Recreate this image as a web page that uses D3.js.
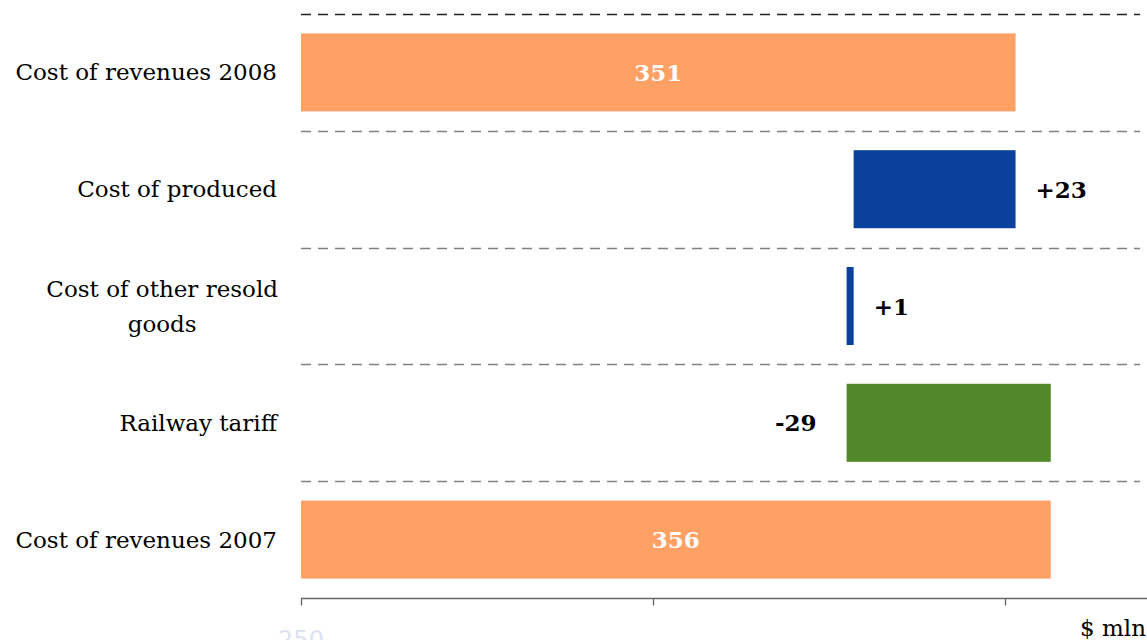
<!DOCTYPE html>
<html><head><meta charset="utf-8">
<script src="https://cdn.jsdelivr.net/npm/d3@7"></script>
<style>html,body{margin:0;padding:0;background:#fff;overflow:hidden}</style>
</head><body>
<svg id="c" width="1147" height="640"></svg>
<script>
const categories = ["Cost of revenues 2008", "Cost of produced", "Cost of other resold goods", "Railway tariff", "Cost of revenues 2007"];
const categoryLines = [["Cost of revenues 2008"], ["Cost of produced"], ["Cost of other resold", "goods"], ["Railway tariff"], ["Cost of revenues 2007"]];
const values = [351.5, 23, 1, -29, 356.5];
const valueLabels = ["351", "+23", "+1", "-29", "356"];
const kinds = ["total", "delta", "delta", "delta", "total"];
const tickValues = [250, 300, 350];
const unitLabel = "$ mln";

const svg = d3.select("#c");
const font = "'DejaVu Serif', serif";
const x = d3.scaleLinear().domain([250, 350]).range([301, 1005]);
const y = d3.scaleBand().domain(categories).range([14, 598]).paddingInner(0.332).paddingOuter(0.166);

// waterfall: build from bottom (2007) upward
const rows = categories.map((c, i) => ({c, i, v: values[i], kind: kinds[i], label: valueLabels[i]}));
let running = null;
for (let i = rows.length - 1; i >= 0; i--) {
  const r = rows[i];
  if (r.kind === "total") { r.x0 = x.domain()[0]; r.x1 = r.v; running = r.v; }
  else { const s = running, e = running + r.v; r.x0 = Math.min(s, e); r.x1 = Math.max(s, e); running = e; }
}

// dashed separators
const step = y.step();
const gap = step - y.bandwidth();
svg.selectAll("line.sep").data(categories).join("line")
  .attr("x1", 301).attr("x2", 1140)
  .attr("y1", d => Math.round(y(d) - gap / 2) + 0.5).attr("y2", d => Math.round(y(d) - gap / 2) + 0.5)
  .attr("stroke", (d, i) => i === 0 ? "#222" : "#808080").attr("stroke-width", 1.3)
  .attr("stroke-dasharray", "10,7");

// bars
svg.selectAll("rect.bar").data(rows).join("rect")
  .attr("x", d => x(d.x0)).attr("width", d => x(d.x1) - x(d.x0))
  .attr("y", d => y(d.c)).attr("height", y.bandwidth())
  .attr("fill", d => d.kind === "total" ? "#FFA064" : (d.v >= 0 ? "#0B409C" : "#52872A"));

// value labels
svg.selectAll("text.val").data(rows).join("text")
  .attr("font-family", font).attr("font-weight", "bold").attr("font-size", 23)
  .attr("dominant-baseline", "central")
  .attr("y", d => y(d.c) + y.bandwidth() / 2)
  .attr("x", d => d.kind === "total" ? (x(d.x0) + x(d.x1)) / 2 : (d.v >= 0 ? x(d.x1) + 20 : x(d.x0) - 30))
  .attr("text-anchor", d => d.kind === "total" ? "middle" : (d.v >= 0 ? "start" : "end"))
  .attr("fill", d => d.kind === "total" ? "#fff" : "#000")
  .text(d => d.label);

// category labels
const catG = svg.selectAll("g.cat").data(rows).join("g");
catG.each(function(d) {
  const g = d3.select(this);
  const lines = categoryLines[d.i];
  const lh = 35;
  const cy = y(d.c) + y.bandwidth() / 2;
  const t = g.append("text").attr("font-family", font).attr("font-size", 23).attr("fill", "#000");
  lines.forEach((ln, k) => {
    t.append("tspan").attr("x", 0).attr("y", cy + (k - (lines.length - 1) / 2) * lh).attr("dominant-baseline", "central").text(ln);
  });
  if (lines.length === 1) {
    t.attr("text-anchor", "end").selectAll("tspan").attr("x", 277);
  } else {
    const w = d3.max(t.selectAll("tspan").nodes(), n => n.getComputedTextLength());
    t.attr("text-anchor", "middle").selectAll("tspan").attr("x", 278 - w / 2);
  }
});

// axis
const axisY = 598.5;
svg.append("line").attr("x1", x.range()[0]).attr("x2", 1147).attr("y1", axisY).attr("y2", axisY)
  .attr("stroke", "#666").attr("stroke-width", 1.3);
svg.selectAll("line.tick").data(tickValues).join("line")
  .attr("x1", d => Math.round(x(d)) + 0.5).attr("x2", d => Math.round(x(d)) + 0.5)
  .attr("y1", axisY).attr("y2", axisY + 7).attr("stroke", "#666").attr("stroke-width", 1.3);
svg.selectAll("text.tick").data(tickValues.slice(0, 1)).join("text")
  .attr("x", d => x(d)).attr("y", 648).attr("text-anchor", "middle")
  .attr("font-family", "'DejaVu Sans', sans-serif").attr("font-size", 24).attr("fill", "#dce3ef")
  .text(d => d);
svg.append("text").attr("x", 1146).attr("y", 636).attr("text-anchor", "end")
  .attr("font-family", font).attr("font-size", 23).attr("fill", "#000").text(unitLabel);
</script>
</body></html>
